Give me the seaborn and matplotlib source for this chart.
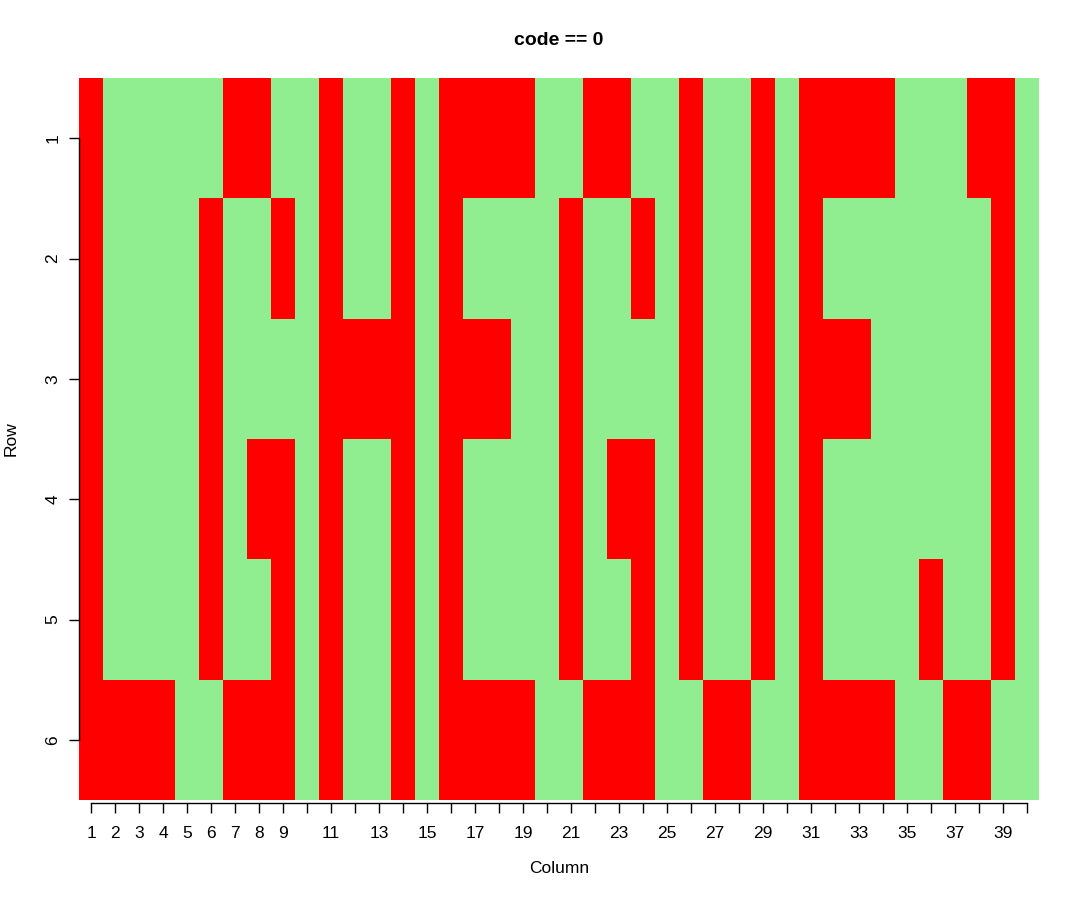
import numpy as np
import pandas as pd
import matplotlib
matplotlib.use('Agg')
import matplotlib.pyplot as plt
from matplotlib.colors import ListedColormap
import seaborn as sns

## columnas en rojo (code != 0) para cada fila
red_row1 = [1, 7, 8, 11, 14, 16, 17, 18, 19, 22, 23, 26, 29, 31, 32, 33, 34, 38, 39]
red_row2 = [1, 6, 9, 11, 14, 16, 21, 24, 26, 29, 31, 39]
red_row3 = [1, 6, 11, 12, 13, 14, 16, 17, 18, 21, 26, 29, 31, 32, 33, 39]
red_row4 = [1, 6, 8, 9, 11, 14, 16, 21, 23, 24, 26, 29, 31, 39]
red_row5 = [1, 6, 9, 11, 14, 16, 21, 24, 26, 29, 31, 36, 39]
red_row6 = [1, 2, 3, 4, 7, 8, 9, 11, 14, 16, 17, 18, 19, 22, 23, 24, 27, 28, 31, 32, 33, 34, 37, 38]

rows = [1, 2, 3, 4, 5, 6]
columns = list(range(1, 41))
x_labels_shown = [1, 2, 3, 4, 5, 6, 7, 8, 9] + list(range(11, 40, 2))

red_rows = [red_row1, red_row2, red_row3, red_row4, red_row5, red_row6]
grid = pd.DataFrame(0, index=rows, columns=columns)
for r, reds in zip(rows, red_rows):
    grid.loc[r, reds] = 1

sns.set_style("white")
plt.rcParams['font.family'] = ['Liberation Sans', 'DejaVu Sans']

fig = plt.figure(figsize=(10.8, 9), dpi=100)
ax = fig.add_axes([79 / 1080, 1 - 800 / 900, 960 / 1080, 722 / 900])
sns.heatmap(grid, cmap=ListedColormap(['#90EE90', '#FF0000']), vmin=0, vmax=1,
            cbar=False, ax=ax, linewidths=0, square=False)

# ejes estilo R
ax.set_xticks([c - 0.5 for c in columns])
ax.set_xticklabels([str(c) if c in x_labels_shown else '' for c in columns], rotation=0)
ax.set_yticks([r - 0.5 for r in rows])
ax.set_yticklabels([str(r) for r in rows], rotation=90, va='center')
ax.tick_params(axis='both', which='both', length=7.5, width=1, color='black',
               direction='out', bottom=True, left=True, labelsize=12.5,
               labelcolor='black')
ax.tick_params(axis='x', pad=9)
ax.tick_params(axis='y', pad=6)

for side in ['top', 'right']:
    ax.spines[side].set_visible(False)
ax.spines['bottom'].set_visible(True)
ax.spines['left'].set_visible(True)
ax.spines['bottom'].set_bounds(0.5, 39.5)
ax.spines['left'].set_bounds(0.5, 5.5)
ax.spines['bottom'].set_position(('outward', 2))
ax.spines['bottom'].set_linewidth(1)
ax.spines['left'].set_linewidth(1)
ax.spines['bottom'].set_color('black')
ax.spines['left'].set_color('black')

ax.set_xlabel('Column', fontsize=12.5, color='black')
ax.set_ylabel('Row', fontsize=12.5, color='black')
ax.xaxis.set_label_coords(0.5, -0.085)
ax.yaxis.set_label_coords(-0.0625, 0.5)
ax.set_title('code == 0', fontsize=14, fontweight='bold', pad=24, color='black')

fig.savefig('out.png', dpi=100)
